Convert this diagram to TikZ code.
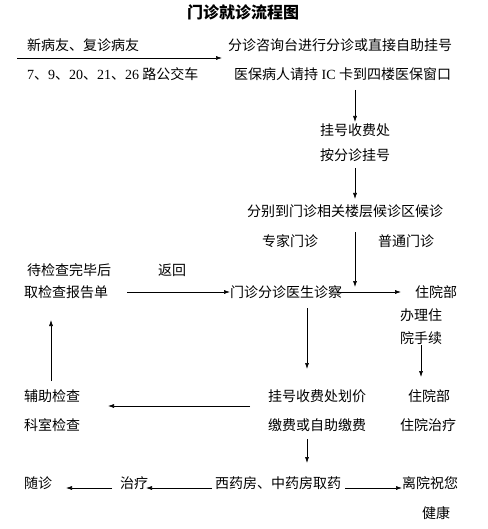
\documentclass[tikz,border=0pt]{standalone}
\usepackage{fontspec}
\setmainfont{Noto Sans CJK SC}
\newfontfamily\lat{Liberation Serif}
\usetikzlibrary{arrows.meta}
\begin{document}
\begin{tikzpicture}[x=1pt,y=-1pt,
  txt/.style={anchor=west,inner sep=0pt,font=\fontsize{14}{14}\selectfont},
  ttl/.style={inner sep=0pt,font=\fontsize{16}{16}\selectfont\bfseries},
  arr/.style={-{Latex[length=6pt,width=4pt]},line width=0.6pt}]
\useasboundingbox (0,0) rectangle (487,529);
\node[ttl] (title) at (243,12) {门诊就诊流程图};
\node[txt] (a1) at (27,45) {新病友、复诊病友};
\node[txt] (a2) at (27,74) {{\lat 7}、{\lat 9}、{\lat 20}、{\lat 21}、{\lat 26} 路公交车};
\node[txt] (b1) at (228,45) {分诊咨询台进行分诊或直接自助挂号};
\node[txt] (b2) at (234,74) {医保病人请持{\lat\ IC }卡到四楼医保窗口};
\node[txt] (c1) at (320,130) {挂号收费处};
\node[txt] (c2) at (320,155) {按分诊挂号};
\node[txt] (d) at (247,211) {分别到门诊相关楼层候诊区候诊};
\node[txt] (e1) at (262,241) {专家门诊};
\node[txt] (e2) at (378,241) {普通门诊};
\node[txt] (f1) at (27,270) {待检查完毕后};
\node[txt] (f2) at (158,270) {返回};
\node[txt] (f3) at (24,292) {取检查报告单};
\node[txt] (g) at (230,292) {门诊分诊医生诊察};
\node[txt] (h1) at (415,292) {住院部};
\node[txt] (h2) at (400,315) {办理住};
\node[txt] (h3) at (400,338) {院手续};
\node[txt] (i1) at (24,396) {辅助检查};
\node[txt] (i2) at (24,425) {科室检查};
\node[txt] (j1) at (268,396) {挂号收费处划价};
\node[txt] (j2) at (268,425) {缴费或自助缴费};
\node[txt] (k1) at (408,396) {住院部};
\node[txt] (k2) at (400,425) {住院治疗};
\node[txt] (l1) at (24,483) {随诊};
\node[txt] (l2) at (120,483) {治疗};
\node[txt] (l3) at (215,483) {西药房、中药房取药};
\node[txt] (l4) at (402,483) {离院祝您};
\node[txt] (l5) at (422,513) {健康};
% connector end points
\coordinate (s1) at (17,58);   \coordinate (t1) at (222,58);
\coordinate (s2) at (355,90);  \coordinate (t2) at (355,122);
\coordinate (s3) at (355,168); \coordinate (t3) at (355,199);
\coordinate (s4) at (355,232); \coordinate (t4) at (355,287);
\coordinate (s5) at (127,292);
\coordinate (s6) at (337,292); \coordinate (t6) at (401,292);
\coordinate (s7) at (51,381);  \coordinate (t7) at (51,320);
\coordinate (s8) at (307,308); \coordinate (t8) at (307,369);
\coordinate (s9) at (421,345); \coordinate (t9) at (421,377);
\coordinate (s10) at (250,406); \coordinate (t10) at (108,406);
\coordinate (s11) at (307,439); \coordinate (t11) at (307,463);
\coordinate (s12) at (112,488); \coordinate (t12) at (66,488);
\coordinate (s13) at (212,488); \coordinate (t13) at (146,488);
\coordinate (s14) at (345,488); \coordinate (t14) at (402,488);
\draw[arr] (s1) -- (t1);
\draw[arr] (s2) -- (t2);
\draw[arr] (s3) -- (t3);
\draw[arr] (s4) -- (t4);
\draw[arr] (s5) -- (g.west);
\draw[arr] (s6) -- (t6);
\draw[arr] (s7) -- (t7);
\draw[arr] (s8) -- (t8);
\draw[arr] (s9) -- (t9);
\draw[arr] (s10) -- (t10);
\draw[arr] (s11) -- (t11);
\draw[arr] (s12) -- (t12);
\draw[arr] (s13) -- (t13);
\draw[arr] (s14) -- (t14);
\end{tikzpicture}
\end{document}
